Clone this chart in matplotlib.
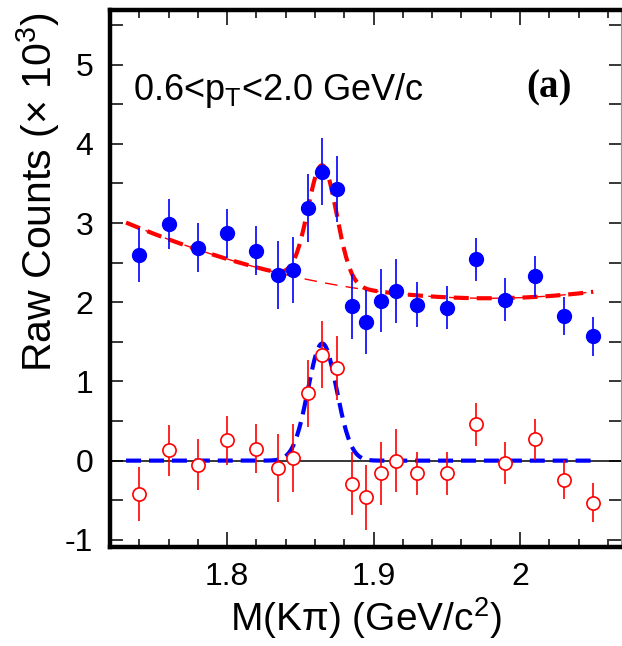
"""D0 -> K pi invariant-mass panel (a): raw counts with fit, and the
background-subtracted signal below it."""
import matplotlib
matplotlib.use("Agg")
import matplotlib.pyplot as plt
import numpy as np
from matplotlib.ticker import MultipleLocator, FixedLocator

plt.rcParams["font.family"] = ["Liberation Sans", "DejaVu Sans"]
plt.rcParams["mathtext.fontset"] = "custom"
plt.rcParams["mathtext.rm"] = "Liberation Sans"
plt.rcParams["mathtext.it"] = "Liberation Sans:italic"
plt.rcParams["axes.unicode_minus"] = False

# --- data (x 10^3 counts) -------------------------------------------------
mass = [1.74, 1.76, 1.78, 1.80, 1.82, 1.835, 1.845, 1.855, 1.865, 1.875,
        1.885, 1.895, 1.905, 1.915, 1.93, 1.95, 1.97, 1.99, 2.01, 2.03, 2.05]
raw_counts = [2.60, 2.99, 2.69, 2.87, 2.65, 2.34, 2.41, 3.19, 3.65, 3.43,
              1.95, 1.75, 2.02, 2.14, 1.97, 1.93, 2.54, 2.03, 2.33, 1.83, 1.57]
raw_err = [0.34, 0.32, 0.31, 0.31, 0.31, 0.43, 0.42, 0.43, 0.42, 0.42,
           0.41, 0.40, 0.40, 0.40, 0.28, 0.27, 0.27, 0.27, 0.26, 0.24, 0.25]
sub_counts = [-0.42, 0.13, -0.05, 0.26, 0.15, -0.09, 0.03, 0.85, 1.34, 1.17,
              -0.29, -0.46, -0.16, 0.00, -0.16, -0.16, 0.46, -0.03, 0.27, -0.24, -0.53]
sub_err = [0.34, 0.32, 0.32, 0.31, 0.31, 0.43, 0.43, 0.42, 0.42, 0.41,
           0.40, 0.41, 0.40, 0.40, 0.27, 0.27, 0.27, 0.26, 0.26, 0.25, 0.25]

# fit: gaussian peak on a 2nd-order polynomial background (around 1.9)
FIT_RANGE = (1.731, 2.05)
PEAK_MEAN, PEAK_SIGMA, PEAK_AMP = 1.865, 0.0098, 1.48
BKG_COEFFS = [2.145, -2.44, 15.7]   # c0 + c1*(m-1.9) + c2*(m-1.9)^2

x_ticks = [1.8, 1.9, 2.0]
x_tick_labels = ["1.8", "1.9", "2"]
y_ticks = [-1, 0, 1, 2, 3, 4, 5]

RED = "#ff0000"
BLUE = "#0000ff"


def gauss(m):
    return PEAK_AMP * np.exp(-0.5 * ((m - PEAK_MEAN) / PEAK_SIGMA) ** 2)


def background(m):
    u = m - 1.9
    return BKG_COEFFS[0] + BKG_COEFFS[1] * u + BKG_COEFFS[2] * u ** 2


def main():
    fig = plt.figure(figsize=(6.22, 6.46), dpi=100)
    ax = fig.add_axes([0.1768, 0.1533, 0.8216, 0.8312])

    m = np.linspace(*FIT_RANGE, 400)
    ax.axhline(0, color="black", lw=1.1, zorder=1)
    ax.plot(m, background(m), color=RED, lw=1.0, ls=(0, (9, 6)), zorder=2)
    ax.plot(m, background(m) + gauss(m), color=RED, lw=3.0,
            ls=(0, (3.6, 1.9)), zorder=3)
    ax.plot(m, gauss(m), color=BLUE, lw=3.0, ls=(0, (3.6, 1.9)), zorder=3)

    ax.errorbar(mass, raw_counts, yerr=raw_err, fmt="o", color=BLUE,
                ms=10, elinewidth=1.2, capsize=0, zorder=4)
    ax.errorbar(mass, sub_counts, yerr=sub_err, fmt="o", color=RED,
                mfc="white", mec=RED, mew=1.2, ms=9.5, elinewidth=1.2,
                capsize=0, zorder=4)

    ax.set_xlim(1.72, 2.069)
    ax.set_ylim(-1.09, 5.69)
    ax.xaxis.set_major_locator(FixedLocator(x_ticks))
    ax.set_xticklabels(x_tick_labels)
    ax.xaxis.set_minor_locator(MultipleLocator(0.02))
    ax.yaxis.set_major_locator(FixedLocator(y_ticks))
    ax.yaxis.set_minor_locator(MultipleLocator(0.5))

    ax.tick_params(which="both", direction="in", top=True, right=True,
                   color="black", width=1.1, labelsize=23)
    ax.tick_params(axis="x", which="major", length=11, pad=11)
    ax.tick_params(axis="x", which="minor", length=5.5)
    ax.tick_params(axis="y", which="both", length=9, pad=12)

    for s in ("left", "top", "bottom"):
        ax.spines[s].set_linewidth(3.2)
    ax.spines["right"].set_linewidth(0.8)
    ax.spines["right"].set_color("#999999")

    ax.set_xlabel("M(Kπ) (GeV/c$^{2}$)", fontsize=28)
    ax.xaxis.label.set_va("baseline")
    ax.xaxis.set_label_coords(0.5, -0.156)
    ax.set_ylabel("Raw Counts (× 10$^{3}$)", fontsize=29.5, loc="top")
    ax.yaxis.set_label_coords(-0.094, 0.996)

    ax.text(1.7357, 4.56, "0.6<p$_{\\mathrm{T}}$<2.0 GeV/c", fontsize=26,
            va="baseline", ha="left")
    ax.text(2.0197, 4.586, "(a)", fontsize=28, fontweight="bold",
            family="Liberation Serif", va="baseline", ha="center")

    fig.savefig("out.png", dpi=100)
    plt.close(fig)


if __name__ == "__main__":
    main()
